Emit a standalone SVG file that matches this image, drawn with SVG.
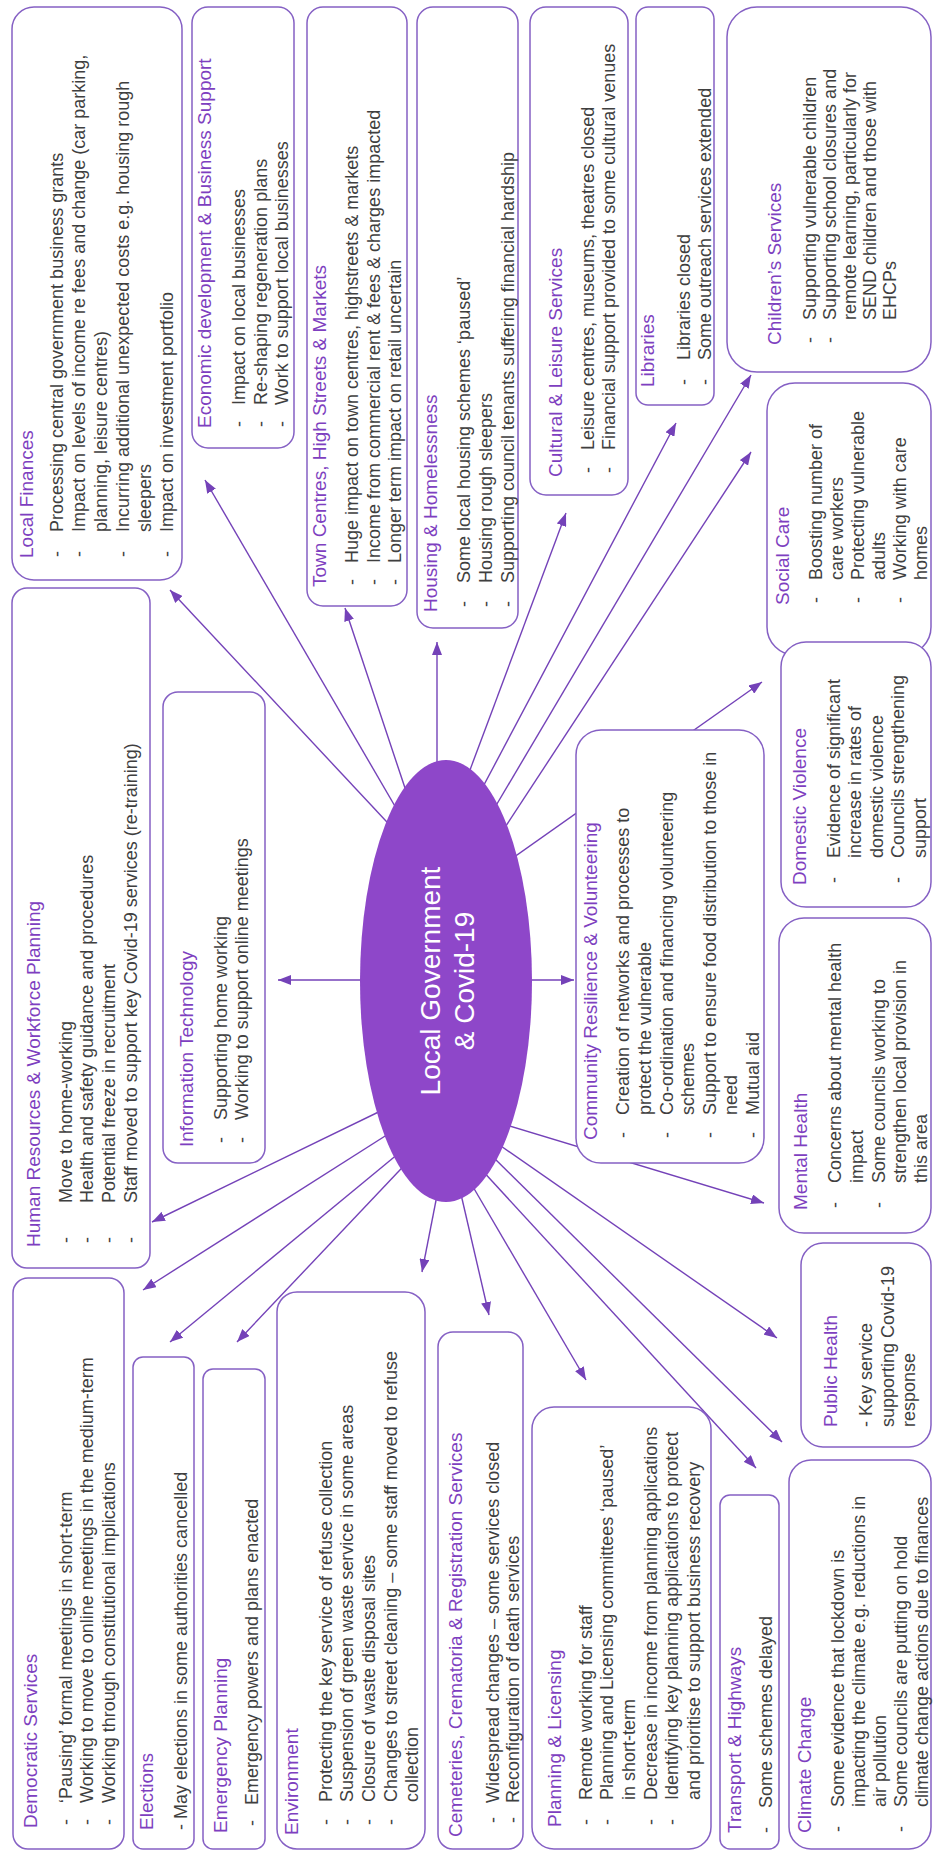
<svg xmlns="http://www.w3.org/2000/svg" width="934" height="1856" viewBox="0 0 934 1856" xml:space="preserve">
<defs>
<marker id="ah" markerUnits="userSpaceOnUse" markerWidth="14" markerHeight="10" refX="13" refY="5" orient="auto"><path d="M0,0 L13,5 L0,10 z" fill="#7442B8"/></marker>
<style>
.box{fill:#fff;stroke:#8560C4;stroke-width:1.5}
.t{font-family:"Liberation Sans",Arial,sans-serif;font-size:19px;fill:#7E3FC0}
.b{font-family:"Liberation Sans",Arial,sans-serif;font-size:18px;fill:#3F3F3F}
.c{stroke:#7442B8;stroke-width:1.4;fill:none;marker-end:url(#ah)}
.hub{fill:#8E47C9}
.ht{font-family:"Liberation Sans",Arial,sans-serif;font-size:28px;fill:#fff;text-anchor:middle}
</style>
</defs>
<rect width="934" height="1856" fill="#fff"/>
<g id="connectors">
<line class="c" x1="400" y1="836" x2="170" y2="590"/>
<line class="c" x1="403" y1="820" x2="205" y2="480"/>
<line class="c" x1="411" y1="806" x2="345" y2="608"/>
<line class="c" x1="437" y1="780" x2="437" y2="642"/>
<line class="c" x1="464" y1="786" x2="566" y2="513"/>
<line class="c" x1="477" y1="798" x2="676" y2="423"/>
<line class="c" x1="491" y1="814" x2="751" y2="375"/>
<line class="c" x1="500" y1="835" x2="751" y2="452"/>
<line class="c" x1="503" y1="865" x2="762" y2="682"/>
<line class="c" x1="520" y1="980" x2="574" y2="980"/>
<line class="c" x1="500" y1="1123" x2="764" y2="1203"/>
<line class="c" x1="370" y1="980" x2="278" y2="980"/>
<line class="c" x1="395" y1="1104" x2="152" y2="1222"/>
<line class="c" x1="404" y1="1124" x2="143" y2="1290"/>
<line class="c" x1="410" y1="1144" x2="170" y2="1342"/>
<line class="c" x1="416" y1="1153" x2="237" y2="1342"/>
<line class="c" x1="440" y1="1180" x2="422" y2="1272"/>
<line class="c" x1="460" y1="1190" x2="489" y2="1315"/>
<line class="c" x1="469" y1="1180" x2="586" y2="1380"/>
<line class="c" x1="480" y1="1168" x2="756" y2="1468"/>
<line class="c" x1="490" y1="1154" x2="782" y2="1442"/>
<line class="c" x1="498" y1="1144" x2="777" y2="1338"/>
</g>
<g transform="translate(0,1856) rotate(-90)">
<g id="hub">
<ellipse class="hub" cx="875" cy="446" rx="221" ry="86"/>
<text class="ht" x="875" y="440">Local Government</text>
<text class="ht" x="875" y="474">&amp; Covid-19</text>
</g>
<g id="local-finances">
<rect class="box" x="1276" y="12" width="573" height="170" rx="22"/>
<text class="t" x="1298" y="33">Local Finances</text>
<text class="b" x="1299" y="63">-</text><text class="b" x="1324" y="63">Processing central government business grants</text>
<text class="b" x="1299" y="85">-</text><text class="b" x="1324" y="85">Impact on levels of income re fees and change (car parking,</text>
<text class="b" x="1324" y="107">planning, leisure centres)</text>
<text class="b" x="1299" y="129">-</text><text class="b" x="1324" y="129">Incurring additional unexpected costs e.g. housing rough</text>
<text class="b" x="1324" y="151">sleepers</text>
<text class="b" x="1299" y="173">-</text><text class="b" x="1324" y="173">Impact on investment portfolio</text>
</g>
<g id="economic">
<rect class="box" x="1408" y="192" width="441" height="102" rx="16"/>
<text class="t" x="1428" y="211">Economic  development &amp; Business  Support</text>
<text class="b" x="1429" y="245">-</text><text class="b" x="1451" y="245">Impact on local businesses</text>
<text class="b" x="1429" y="267">-</text><text class="b" x="1451" y="267">Re-shaping regeneration plans</text>
<text class="b" x="1429" y="288">-</text><text class="b" x="1451" y="288">Work to  support local businesses</text>
</g>
<g id="town-centres">
<rect class="box" x="1250" y="307" width="599" height="100" rx="16"/>
<text class="t" x="1269" y="326">Town Centres, High  Streets &amp; Markets</text>
<text class="b" x="1271" y="358">-</text><text class="b" x="1293" y="358">Huge impact on town centres, highstreets &amp; markets</text>
<text class="b" x="1271" y="380">-</text><text class="b" x="1293" y="380">Income from commercial rent &amp; fees &amp; charges impacted</text>
<text class="b" x="1271" y="401">-</text><text class="b" x="1293" y="401">Longer term impact  on retail uncertain</text>
</g>
<g id="housing">
<rect class="box" x="1228" y="417" width="621" height="101" rx="16"/>
<text class="t" x="1244" y="437">Housing  &amp; Homelessness</text>
<text class="b" x="1249" y="470">-</text><text class="b" x="1273" y="470">Some local housing schemes ‘paused’</text>
<text class="b" x="1249" y="492">-</text><text class="b" x="1273" y="492">Housing rough sleepers</text>
<text class="b" x="1249" y="514">-</text><text class="b" x="1273" y="514">Supporting council tenants suffering financial hardship</text>
</g>
<g id="cultural">
<rect class="box" x="1361" y="530" width="488" height="98" rx="16"/>
<text class="t" x="1379" y="562">Cultural  &amp; Leisure Services</text>
<text class="b" x="1383" y="594">-</text><text class="b" x="1406" y="594">Leisure centres, museums, theatres closed</text>
<text class="b" x="1383" y="615">-</text><text class="b" x="1406" y="615">Financial support provided to some cultural venues</text>
</g>
<g id="libraries">
<rect class="box" x="1451" y="636" width="398" height="78" rx="12"/>
<text class="t" x="1469" y="654">Libraries</text>
<text class="b" x="1471" y="690">-</text><text class="b" x="1496" y="690">Libraries closed</text>
<text class="b" x="1471" y="711">-</text><text class="b" x="1496" y="711">Some outreach services extended</text>
</g>
<g id="childrens">
<rect class="box" x="1484" y="727" width="365" height="204" rx="30"/>
<text class="t" x="1511" y="781">Children’s  Services</text>
<text class="b" x="1513" y="816">-</text><text class="b" x="1536" y="816">Supporting vulnerable children</text>
<text class="b" x="1513" y="836">-</text><text class="b" x="1536" y="836">Supporting school closures and</text>
<text class="b" x="1536" y="856">remote learning, particularly for</text>
<text class="b" x="1536" y="876">SEND children and those with</text>
<text class="b" x="1536" y="896">EHCPs</text>
</g>
<g id="social-care">
<rect class="box" x="1201" y="767" width="272" height="164" rx="28"/>
<text class="t" x="1251" y="789">Social Care</text>
<text class="b" x="1253" y="822">-</text><text class="b" x="1276" y="822">Boosting number of</text>
<text class="b" x="1276" y="843">care workers</text>
<text class="b" x="1253" y="864">-</text><text class="b" x="1276" y="864">Protecting vulnerable</text>
<text class="b" x="1276" y="885">adults</text>
<text class="b" x="1253" y="906">-</text><text class="b" x="1276" y="906">Working with care</text>
<text class="b" x="1276" y="927">homes</text>
</g>
<g id="domestic-violence">
<rect class="box" x="949" y="781" width="265" height="150" rx="25"/>
<text class="t" x="971" y="806">Domestic Violence</text>
<text class="b" x="973" y="840">-</text><text class="b" x="998" y="840">Evidence of significant</text>
<text class="b" x="998" y="861">increase in rates of</text>
<text class="b" x="998" y="883">domestic violence</text>
<text class="b" x="973" y="904">-</text><text class="b" x="998" y="904">Councils strengthening</text>
<text class="b" x="998" y="926">support</text>
</g>
<g id="mental-health">
<rect class="box" x="623" y="779" width="315" height="152" rx="25"/>
<text class="t" x="646" y="807">Mental Health</text>
<text class="b" x="648" y="841">-</text><text class="b" x="673" y="841">Concerns about mental health</text>
<text class="b" x="673" y="863">impact</text>
<text class="b" x="648" y="885">-</text><text class="b" x="673" y="885">Some councils working to</text>
<text class="b" x="673" y="906">strengthen local provision in</text>
<text class="b" x="673" y="927">this area</text>
</g>
<g id="public-health">
<rect class="box" x="409" y="801" width="204" height="130" rx="22"/>
<text class="t" x="429" y="837">Public  Health</text>
<text class="b" x="429" y="872">- Key service</text>
<text class="b" x="429" y="894">supporting Covid-19</text>
<text class="b" x="429" y="915">response</text>
</g>
<g id="climate-change">
<rect class="box" x="7" y="789" width="389" height="142" rx="22"/>
<text class="t" x="23" y="811">Climate Change</text>
<text class="b" x="24" y="844">-</text><text class="b" x="49" y="844">Some evidence that lockdown is</text>
<text class="b" x="49" y="865">impacting the climate e.g. reductions in</text>
<text class="b" x="49" y="886">air pollution</text>
<text class="b" x="24" y="907">-</text><text class="b" x="49" y="907">Some councils are putting on hold</text>
<text class="b" x="49" y="928">climate change actions due to finances</text>
</g>
<g id="transport">
<rect class="box" x="7" y="720" width="354" height="59" rx="10"/>
<text class="t" x="23" y="741">Transport &amp; Highways</text>
<text class="b" x="23" y="772">-</text><text class="b" x="48" y="772">Some schemes delayed</text>
</g>
<g id="planning">
<rect class="box" x="7" y="532" width="442" height="179" rx="22"/>
<text class="t" x="29" y="561">Planning  &amp; Licensing</text>
<text class="b" x="31" y="592">-</text><text class="b" x="56" y="592">Remote working for staff</text>
<text class="b" x="31" y="613">-</text><text class="b" x="56" y="613">Planning  and Licensing committees ‘paused’</text>
<text class="b" x="56" y="635">in short-term</text>
<text class="b" x="31" y="657">-</text><text class="b" x="56" y="657">Decrease in income from planning applications</text>
<text class="b" x="31" y="678">-</text><text class="b" x="56" y="678">Identifying key planning applications to protect</text>
<text class="b" x="56" y="700"> and  prioritise to support business recovery</text>
</g>
<g id="cemeteries">
<rect class="box" x="7" y="438" width="517" height="85" rx="15"/>
<text class="t" x="19" y="462">Cemeteries,  Crematoria  &amp; Registration  Services</text>
<text class="b" x="33" y="499">-</text><text class="b" x="53" y="499">Widespread changes – some services closed</text>
<text class="b" x="33" y="519">-</text><text class="b" x="53" y="519">Reconfiguration of death services</text>
</g>
<g id="environment">
<rect class="box" x="7" y="277" width="557" height="148" rx="20"/>
<text class="t" x="21" y="298">Environment</text>
<text class="b" x="31" y="332">-</text><text class="b" x="54" y="332">Protecting the key  service of refuse collection</text>
<text class="b" x="31" y="353">-</text><text class="b" x="54" y="353">Suspension of green waste service in some areas</text>
<text class="b" x="31" y="375">-</text><text class="b" x="54" y="375">Closure of waste disposal sites</text>
<text class="b" x="31" y="397">-</text><text class="b" x="54" y="397">Changes to street cleaning – some staff moved to refuse</text>
<text class="b" x="54" y="418">collection</text>
</g>
<g id="emergency-planning">
<rect class="box" x="7" y="203" width="480" height="62" rx="10"/>
<text class="t" x="23" y="227">Emergency  Planning</text>
<text class="b" x="30" y="258">-</text><text class="b" x="51" y="258">Emergency powers and plans enacted</text>
</g>
<g id="elections">
<rect class="box" x="7" y="133" width="492" height="61" rx="10"/>
<text class="t" x="26" y="153">Elections</text>
<text class="b" x="26" y="187">- May  elections in some authorities cancelled</text>
</g>
<g id="democratic-services">
<rect class="box" x="7" y="13" width="571" height="111" rx="15"/>
<text class="t" x="28" y="37">Democratic  Services</text>
<text class="b" x="31" y="72">-</text><text class="b" x="53" y="72">‘Pausing’ formal meetings in short-term</text>
<text class="b" x="31" y="93">-</text><text class="b" x="53" y="93">Working to  move to online meetings in the medium-term</text>
<text class="b" x="31" y="115">-</text><text class="b" x="53" y="115">Working through constitutional implications</text>
</g>
<g id="human-resources">
<rect class="box" x="588" y="12" width="680" height="138" rx="15"/>
<text class="t" x="609" y="40">Human Resources &amp; Workforce Planning</text>
<text class="b" x="613" y="72">-</text><text class="b" x="653" y="72">Move to  home-working</text>
<text class="b" x="613" y="93">-</text><text class="b" x="653" y="93">Health and safety  guidance and procedures</text>
<text class="b" x="613" y="115">-</text><text class="b" x="653" y="115">Potential freeze  in recruitment</text>
<text class="b" x="613" y="137">-</text><text class="b" x="653" y="137">Staff moved to  support key Covid-19 services (re-training)</text>
</g>
<g id="information-technology">
<rect class="box" x="693" y="163" width="471" height="102" rx="15"/>
<text class="t" x="709" y="193">Information  Technology</text>
<text class="b" x="713" y="227">-</text><text class="b" x="736" y="227">Supporting home working</text>
<text class="b" x="713" y="248">-</text><text class="b" x="736" y="248">Working to  support online meetings</text>
</g>
<g id="community-resilience">
<rect class="box" x="693" y="576" width="433" height="188" rx="25"/>
<text class="t" x="716" y="597">Community  Resilience &amp; Volunteering</text>
<text class="b" x="718" y="629">-</text><text class="b" x="741" y="629">Creation of networks and processes to</text>
<text class="b" x="741" y="651">protect the vulnerable</text>
<text class="b" x="718" y="673">-</text><text class="b" x="741" y="673">Co-ordination and financing volunteering</text>
<text class="b" x="741" y="694">schemes</text>
<text class="b" x="718" y="716">-</text><text class="b" x="741" y="716">Support to  ensure food distribution to those in</text>
<text class="b" x="741" y="737">need</text>
<text class="b" x="718" y="759">-</text><text class="b" x="741" y="759">Mutual aid</text>
</g>
</g>
</svg>
